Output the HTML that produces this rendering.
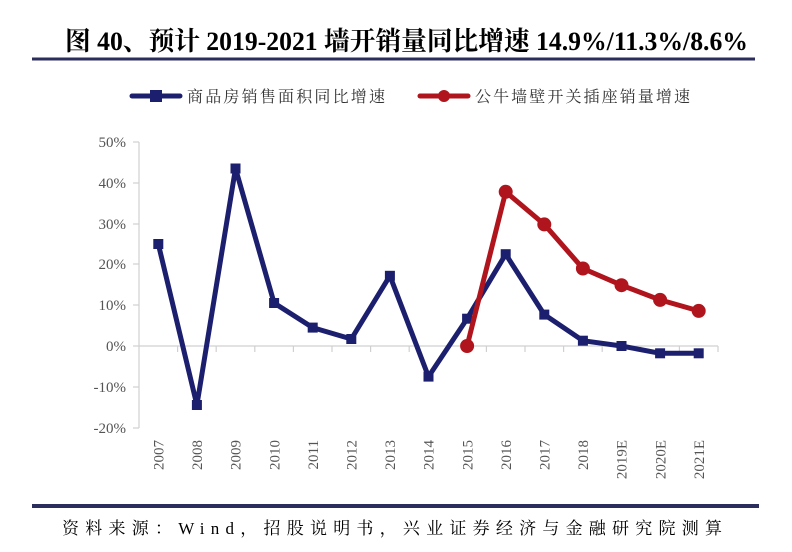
<!DOCTYPE html>
<html><head><meta charset="utf-8"><style>
body{margin:0;background:#fff;width:792px;height:547px;overflow:hidden}
</style></head><body>
<svg width="792" height="547" xmlns="http://www.w3.org/2000/svg" font-family="Liberation Serif, Noto Serif CJK SC, serif">
<text x="65" y="50" textLength="683" lengthAdjust="spacingAndGlyphs" font-size="26" font-weight="bold" fill="#000" font-family="Liberation Serif, Noto Serif CJK SC, serif">图 40、预计 2019-2021 墙开销量同比增速 14.9%/11.3%/8.6%</text>
<line x1="32" y1="59" x2="755" y2="59" stroke="#2b2d5c" stroke-width="3"/>
<!-- legend -->
<line x1="132" y1="96" x2="180" y2="96" stroke="#1b1f6e" stroke-width="5" stroke-linecap="round"/>
<rect x="150" y="90" width="12" height="12" fill="#1b1f6e"/>
<text x="187" y="102" textLength="198" font-size="16" fill="#333" font-family="Noto Serif CJK SC, serif">商品房销售面积同比增速</text>
<line x1="420" y1="96" x2="468" y2="96" stroke="#b0141c" stroke-width="5" stroke-linecap="round"/>
<circle cx="444" cy="96" r="6" fill="#b0141c"/>
<text x="475" y="102" textLength="215" font-size="16" fill="#333" font-family="Noto Serif CJK SC, serif">公牛墙壁开关插座销量增速</text>
<!-- axes -->
<g stroke="#d0d0d0" stroke-width="1.2">
<line x1="139" y1="142" x2="139" y2="428"/>
<line x1="139" y1="346" x2="718" y2="346"/>
<line x1="133" y1="142" x2="139" y2="142"/><line x1="133" y1="183" x2="139" y2="183"/><line x1="133" y1="224" x2="139" y2="224"/><line x1="133" y1="264" x2="139" y2="264"/><line x1="133" y1="305" x2="139" y2="305"/><line x1="133" y1="346" x2="139" y2="346"/><line x1="133" y1="387" x2="139" y2="387"/><line x1="133" y1="428" x2="139" y2="428"/>
<path d="M177.6 346v6M216.2 346v6M254.8 346v6M293.4 346v6M332 346v6M370.6 346v6M409.2 346v6M447.8 346v6M486.4 346v6M525 346v6M563.6 346v6M602.2 346v6M640.8 346v6M679.4 346v6M718 346v6"/>
</g>
<g font-size="15" fill="#555" text-anchor="end">
<text x="126" y="147">50%</text><text x="126" y="188">40%</text><text x="126" y="229">30%</text><text x="126" y="269">20%</text><text x="126" y="310">10%</text><text x="126" y="351">0%</text><text x="126" y="392">-10%</text><text x="126" y="433">-20%</text>
</g>
<g font-size="15" fill="#555" text-anchor="end">
<text transform="translate(163.5,440) rotate(-90)">2007</text>
<text transform="translate(202.1,440) rotate(-90)">2008</text>
<text transform="translate(240.7,440) rotate(-90)">2009</text>
<text transform="translate(279.3,440) rotate(-90)">2010</text>
<text transform="translate(317.9,440) rotate(-90)">2011</text>
<text transform="translate(356.5,440) rotate(-90)">2012</text>
<text transform="translate(395.1,440) rotate(-90)">2013</text>
<text transform="translate(433.7,440) rotate(-90)">2014</text>
<text transform="translate(472.3,440) rotate(-90)">2015</text>
<text transform="translate(510.9,440) rotate(-90)">2016</text>
<text transform="translate(549.5,440) rotate(-90)">2017</text>
<text transform="translate(588.1,440) rotate(-90)">2018</text>
<text transform="translate(626.7,440) rotate(-90)">2019E</text>
<text transform="translate(665.3,440) rotate(-90)">2020E</text>
<text transform="translate(703.9,440) rotate(-90)">2021E</text>
</g>
<polyline fill="none" stroke="#1b1f6e" stroke-width="5" stroke-linejoin="round" points="158.3,244 196.9,405 235.5,168.5 274.1,303 312.7,327.6 351.3,339 389.9,275.8 428.5,376.6 467.1,318.7 505.7,254.2 544.3,314.6 582.9,340.7 621.5,346 660.1,353.3 698.7,353.3"/>
<g fill="#1b1f6e">
<rect x="153.3" y="239" width="10" height="10"/><rect x="191.9" y="400" width="10" height="10"/><rect x="230.5" y="163.5" width="10" height="10"/><rect x="269.1" y="298" width="10" height="10"/><rect x="307.7" y="322.6" width="10" height="10"/><rect x="346.3" y="334" width="10" height="10"/><rect x="384.9" y="270.8" width="10" height="10"/><rect x="423.5" y="371.6" width="10" height="10"/><rect x="462.1" y="313.7" width="10" height="10"/><rect x="500.7" y="249.2" width="10" height="10"/><rect x="539.3" y="309.6" width="10" height="10"/><rect x="577.9" y="335.7" width="10" height="10"/><rect x="616.5" y="341" width="10" height="10"/><rect x="655.1" y="348.3" width="10" height="10"/><rect x="693.7" y="348.3" width="10" height="10"/>
</g>
<polyline fill="none" stroke="#b0141c" stroke-width="5" stroke-linejoin="round" points="467.1,346 505.7,191.8 544.3,224.4 582.9,268.5 621.5,285.2 660.1,299.9 698.7,310.9"/>
<g fill="#b0141c">
<circle cx="467.1" cy="346" r="7"/><circle cx="505.7" cy="191.8" r="7"/><circle cx="544.3" cy="224.4" r="7"/><circle cx="582.9" cy="268.5" r="7"/><circle cx="621.5" cy="285.2" r="7"/><circle cx="660.1" cy="299.9" r="7"/><circle cx="698.7" cy="310.9" r="7"/>
</g>
<rect x="32" y="504" width="727" height="4" fill="#2b2d5c"/>
<text x="62" y="534" textLength="660" font-size="17" fill="#000" font-family="Liberation Serif, Noto Serif CJK SC, serif">资料来源：Wind，招股说明书，兴业证券经济与金融研究院测算</text>
</svg>
</body></html>
